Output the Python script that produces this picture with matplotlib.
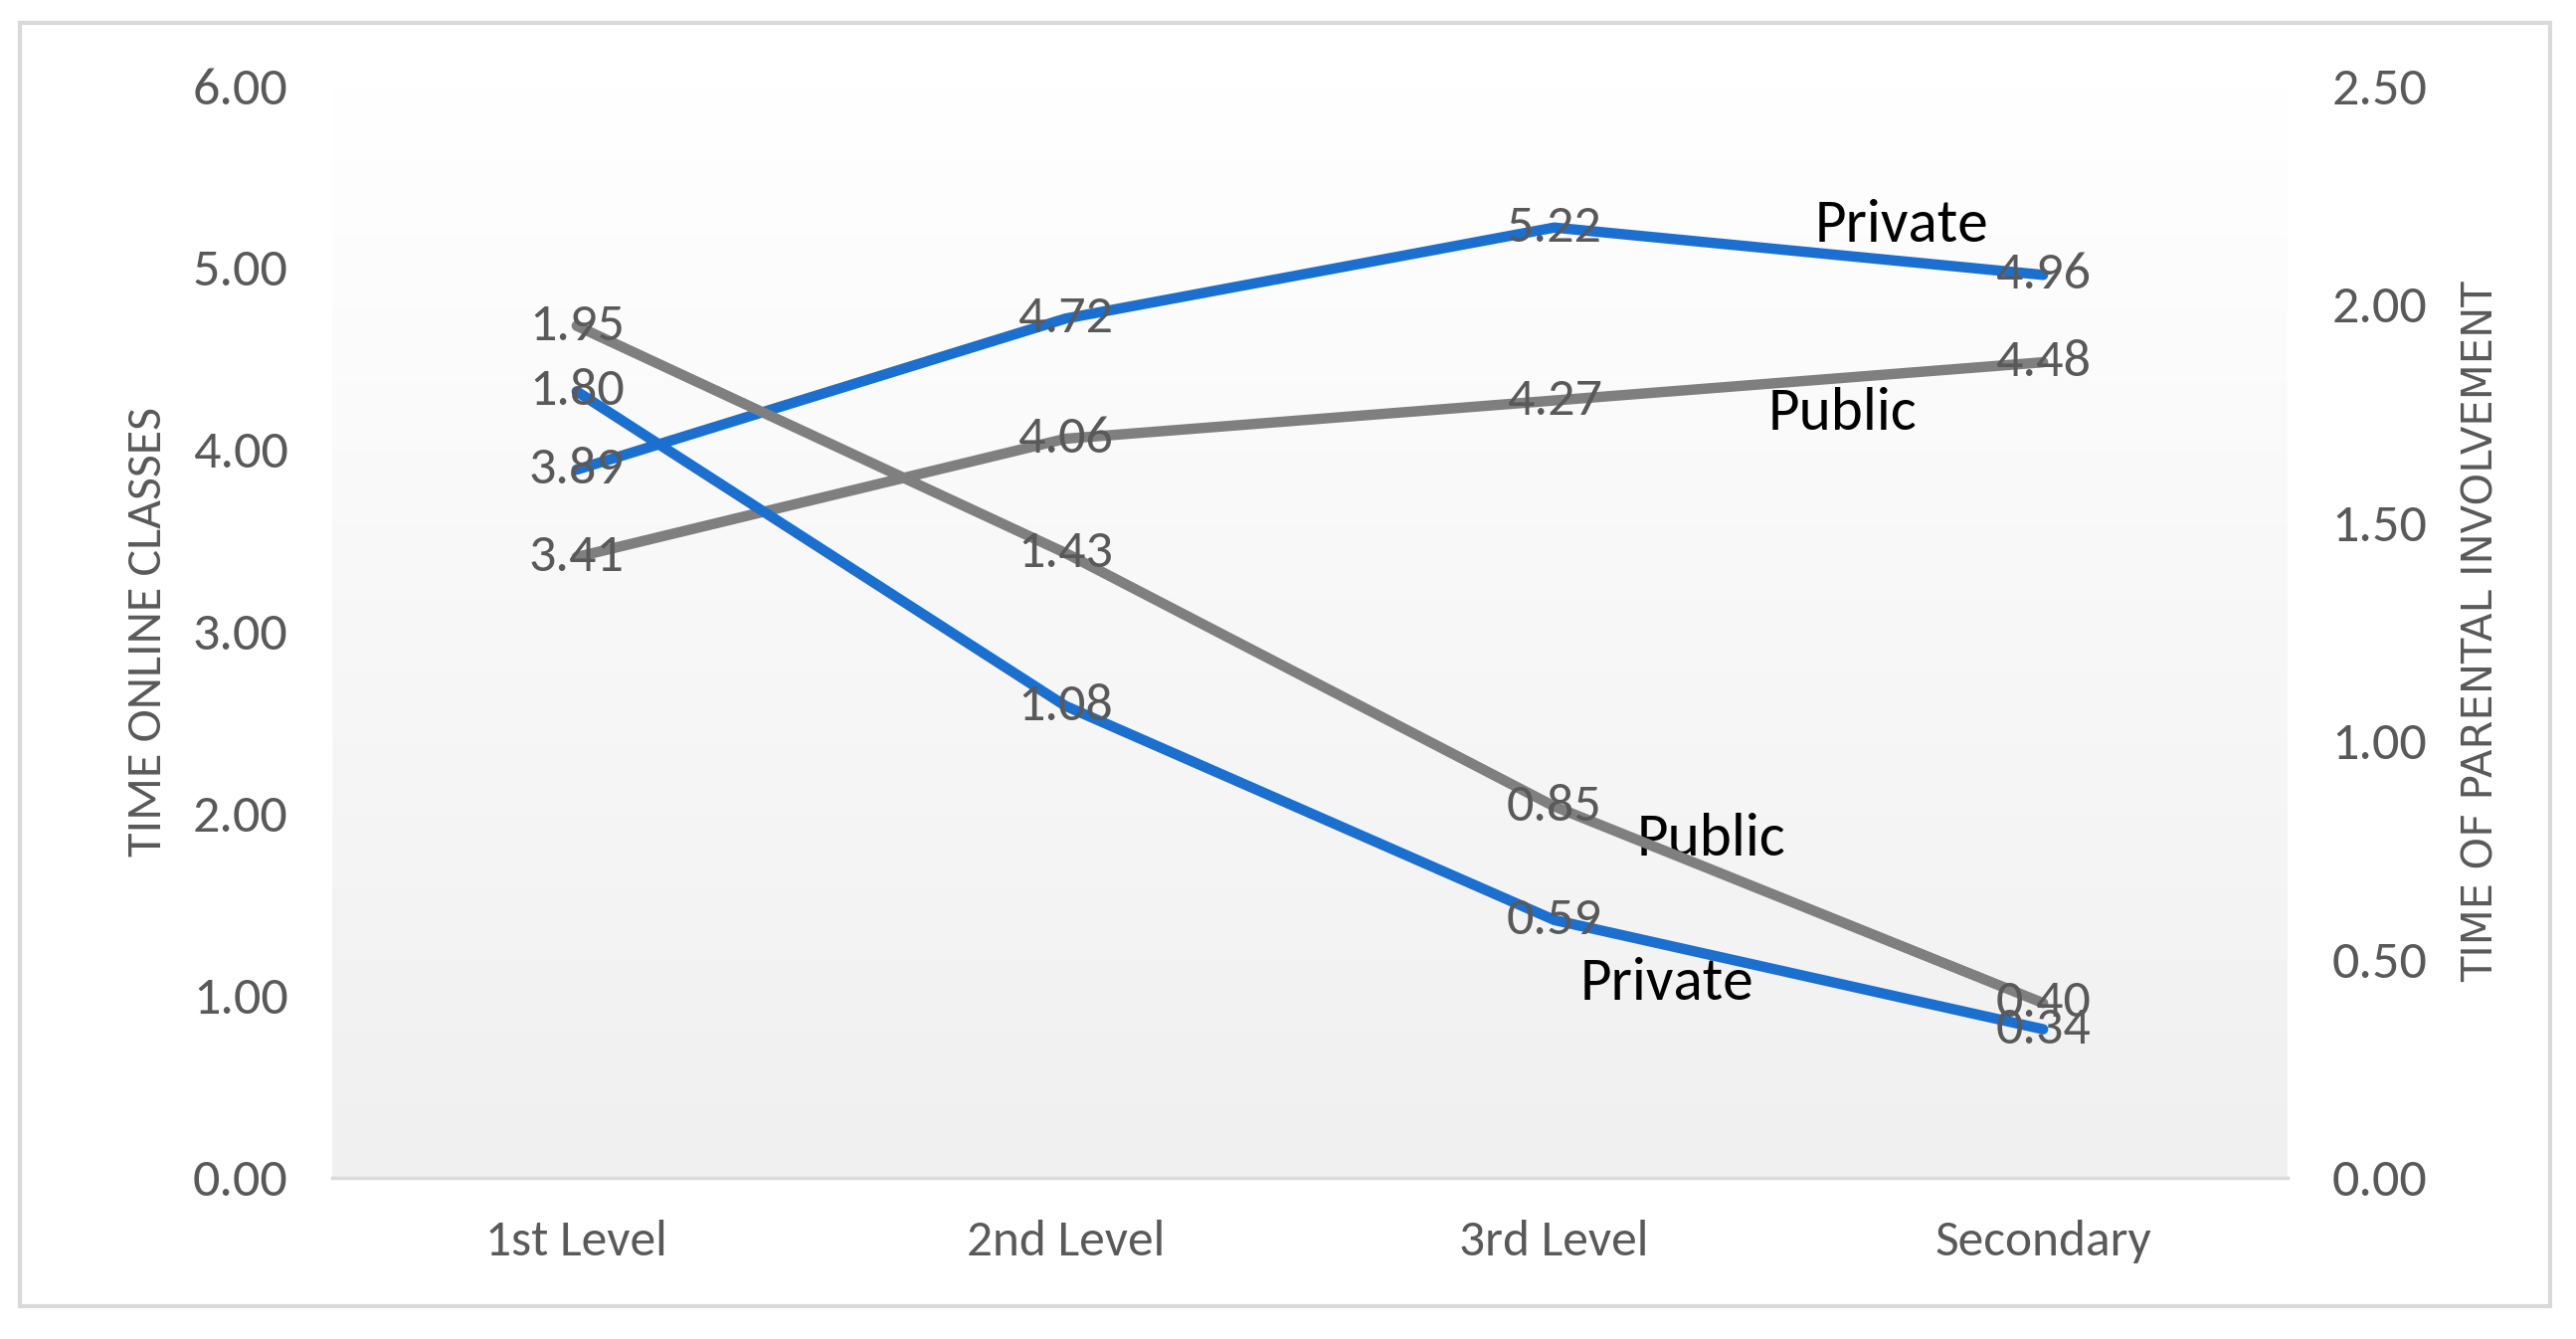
import numpy as np
import matplotlib
matplotlib.use('Agg')
import matplotlib.pyplot as plt
from matplotlib import font_manager
from matplotlib.patches import Rectangle

levels = ['1st Level', '2nd Level', '3rd Level', 'Secondary']
online_private = [3.89, 4.72, 5.22, 4.96]
online_public = [3.41, 4.06, 4.27, 4.48]
parent_private = [1.80, 1.08, 0.59, 0.34]
parent_public = [1.95, 1.43, 0.85, 0.40]

names = {f.name for f in font_manager.fontManager.ttflist}
narrow = 'Liberation Sans'
for cand in ['Carlito', 'Liberation Sans Narrow', 'Roboto Condensed', 'Open Sans Condensed']:
    if cand in names:
        narrow = cand
        break
plt.rcParams['font.family'] = [narrow, 'DejaVu Sans']

blue = '#1b6fcf'
grey = '#7f7f7f'
txt = '#595959'
fs = 39

fig = plt.figure(figsize=(25.9, 13.46), dpi=100)
ax = fig.add_axes([0.129, 0.1204, 0.759, 0.8157])
ax2 = ax.twinx()

# gradient background of plot area
grad = np.linspace(0, 1, 256).reshape(-1, 1)
ax.imshow(grad, cmap=matplotlib.colors.LinearSegmentedColormap.from_list('g', ['#ffffff', '#f0f0f0']),
          extent=[0, 1, 0, 1], transform=ax.transAxes, aspect='auto', zorder=0, origin='upper')
ax2.patch.set_visible(False)

x = np.arange(len(levels))
ax.plot(x, online_public, color=grey, lw=7.5, solid_capstyle='round', zorder=3)
ax.plot(x, online_private, color=blue, lw=7.5, solid_capstyle='round', zorder=3)
ax2.plot(x, parent_public, color=grey, lw=7.5, solid_capstyle='round', zorder=3)
ax2.plot(x, parent_private, color=blue, lw=7.5, solid_capstyle='round', zorder=3)

for xi, v in zip(x, online_private):
    ax.text(xi, v, '%.2f' % v, ha='center', va='center', fontsize=fs, color=txt, zorder=5)
for xi, v in zip(x, online_public):
    ax.text(xi, v, '%.2f' % v, ha='center', va='center', fontsize=fs, color=txt, zorder=5)
for xi, v in zip(x, parent_private):
    ax2.text(xi, v, '%.2f' % v, ha='center', va='center', fontsize=fs, color=txt, zorder=5)
for xi, v in zip(x, parent_public):
    ax2.text(xi, v, '%.2f' % v, ha='center', va='center', fontsize=fs, color=txt, zorder=5)

# series names
ax.text(2.71, 5.23, 'Private', ha='center', va='center', fontsize=44, color='black', zorder=6)
ax.text(2.59, 4.20, 'Public', ha='center', va='center', fontsize=44, color='black', zorder=6)
ax.text(2.32, 1.86, 'Public', ha='center', va='center', fontsize=44, color='black', zorder=6)
ax.text(2.23, 1.07, 'Private', ha='center', va='center', fontsize=44, color='black', zorder=6)

ax.set_xlim(-0.5, 3.5)
ax.set_ylim(0, 6)
ax2.set_ylim(0, 2.5)
ax.set_yticks(np.arange(0, 6.01, 1.0))
ax.set_yticklabels(['%.2f' % t for t in np.arange(0, 6.01, 1.0)])
ax2.set_yticks(np.arange(0, 2.51, 0.5))
ax2.set_yticklabels(['%.2f' % t for t in np.arange(0, 2.51, 0.5)])
ax.set_xticks(x)
ax.set_xticklabels(levels)

for a in (ax, ax2):
    for s in a.spines.values():
        s.set_visible(False)
    a.tick_params(length=0, labelsize=fs, labelcolor=txt)
ax.tick_params(axis='y', pad=32)
ax2.tick_params(axis='y', pad=32)
ax.tick_params(axis='x', labelsize=37, pad=30)
ax.spines['bottom'].set_visible(True)
ax.spines['bottom'].set_color('#d9d9d9')
ax.spines['bottom'].set_linewidth(2.5)

ax.set_ylabel('TIME ONLINE CLASSES', fontsize=36, color=txt, labelpad=17)
ax2.set_ylabel('TIME OF PARENTAL INVOLVEMENT', fontsize=30, color=txt, labelpad=24,
               rotation=90, family='DejaVu Sans')

fig.patches.append(Rectangle((20 / 2590, 1 - 1313 / 1346), 2544 / 2590, 1290 / 1346,
                             transform=fig.transFigure, fill=False, edgecolor='#d9d9d9', lw=3))

fig.savefig('out.png', dpi=100, facecolor='white')
